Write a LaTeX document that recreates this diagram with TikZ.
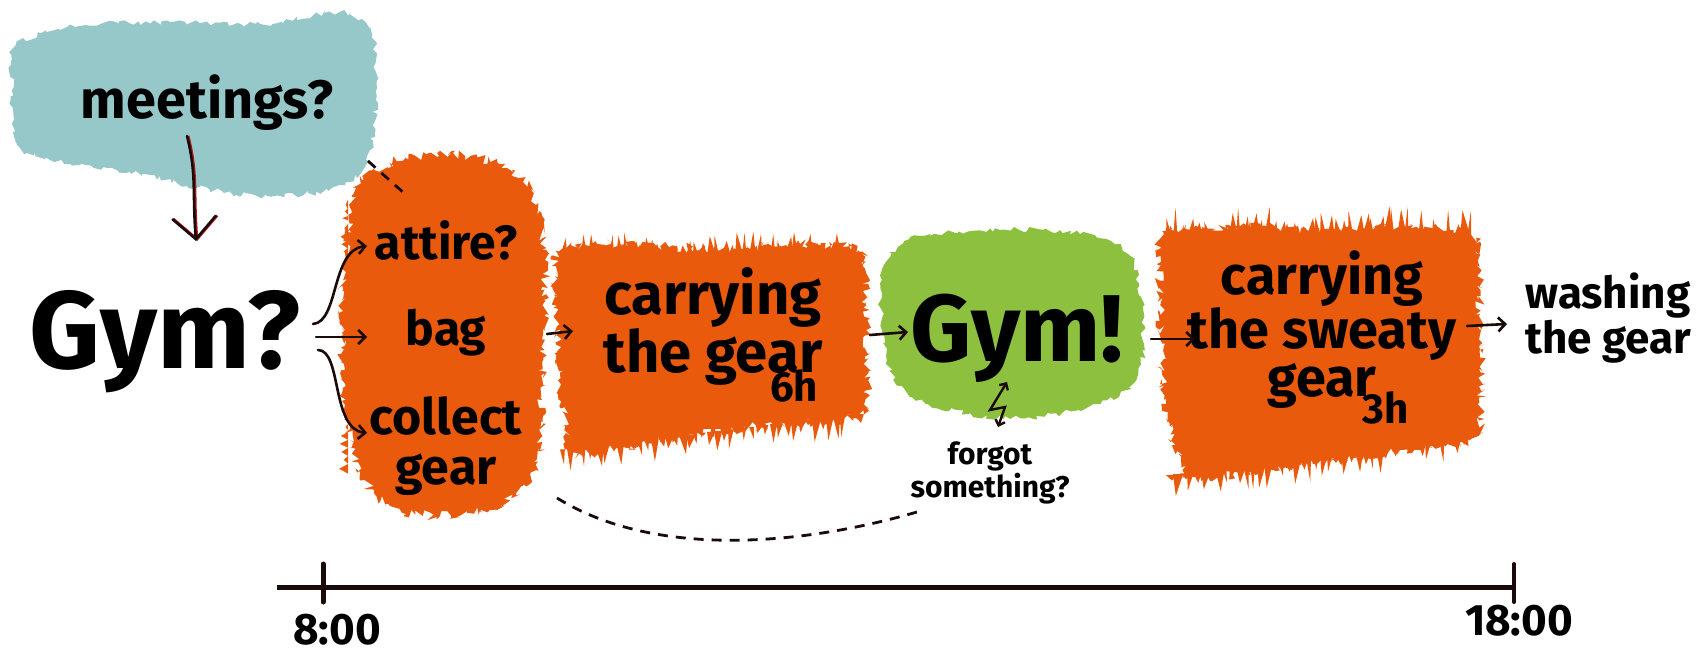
\documentclass[tikz,border=0pt]{standalone}
\usepackage{fontspec}
\setmainfont{Fira Sans}
\usetikzlibrary{arrows.meta,decorations.pathmorphing,calc}
\definecolor{tealc}{HTML}{97C8C9}
\definecolor{orngc}{HTML}{E95A0C}
\definecolor{grnc}{HTML}{8CC03E}
\definecolor{inkc}{HTML}{1A0A0A}
\definecolor{redinkc}{HTML}{B01818}
\newcommand\fsz[2]{\fontsize{#1pt}{#2pt}\selectfont}
\tikzset{
  every node/.style={inner sep=0pt, text=black},
  brush/.style={decorate, decoration={random steps, segment length=4pt, amplitude=3pt}},
  roughbrush/.style={decorate, decoration={random steps, segment length=2.5pt, amplitude=5pt}},
  conn/.style={draw=inkc, line width=2.6pt, line cap=round,
     -{Straight Barb[length=7pt,width=14pt,line width=2.6pt]}},
  bigconn/.style={draw=inkc, line width=2.6pt, line cap=round,
     preaction={draw=redinkc, line width=2.6pt, transform canvas={xshift=1.2pt}},
     -{Straight Barb[length=22pt,width=44pt,line width=2.6pt]}},
  dashline/.style={draw=inkc, line width=2.8pt, dash pattern=on 10pt off 8pt},
  zig/.style={draw=inkc, line width=2.4pt,
     {Straight Barb[length=5pt,width=10pt,line width=2.4pt]}-{Straight Barb[length=5pt,width=10pt,line width=2.4pt]}},
}
\begin{document}
\begin{tikzpicture}[x=1pt,y=-1pt]
\useasboundingbox (0,0) rectangle (1706,655);
\pgfmathsetseed{11}
% brush blobs
\fill[tealc, brush] plot[smooth cycle, tension=0.55] coordinates
  {(16,45) (80,26) (170,22) (260,24) (340,12) (372,35) (376,100) (370,150) (345,185) (280,196) (210,190) (130,172) (50,160) (16,142) (12,90)};
\fill[orngc, roughbrush] plot[smooth cycle, tension=0.55] coordinates
  {(350,230) (362,180) (405,158) (465,156) (512,170) (536,205) (545,260) (542,400) (536,470) (500,505) (440,516) (390,506) (360,472) (345,400) (342,300)};
\fill[orngc, roughbrush] plot[smooth cycle, tension=0.3] coordinates
  {(557,252) (640,244) (720,250) (800,244) (862,252) (866,330) (864,414) (760,426) (660,440) (572,452) (558,350)};
\fill[grnc, brush] plot[smooth cycle, tension=0.55] coordinates
  {(886,262) (920,236) (1000,230) (1080,234) (1130,256) (1143,320) (1136,380) (1090,406) (1020,418) (950,410) (900,386) (882,330)};
\fill[orngc, roughbrush] plot[smooth cycle, tension=0.3] coordinates
  {(1162,232) (1240,226) (1320,230) (1400,226) (1476,238) (1480,330) (1478,436) (1400,450) (1300,464) (1190,476) (1164,400) (1160,300)};
% brush tufts along the edges of the orange strokes
\foreach \x in {560,567,...,854}{
  \pgfmathsetmacro\hh{3+22*rnd}
  \pgfmathsetmacro\ww{4+6*rnd}
  \pgfmathsetmacro\dx{\ww/2+3*rand}
  \fill[orngc] (\x,256) -- ++(\ww,0) -- ++(-\dx,-\hh) -- cycle;
  \pgfmathsetmacro\hb{3+20*rnd}
  \pgfmathsetmacro\wb{4+6*rnd}
  \pgfmathsetmacro\yb{448-(\x-572)*0.12}
  \pgfmathsetmacro\db{\wb/2+3*rand}
  \fill[orngc] (\x,\yb) -- ++(\wb,0) -- ++(-\db,\hb) -- cycle;
}
\foreach \x in {1166,1173,...,1470}{
  \pgfmathsetmacro\hh{4+28*rnd}
  \pgfmathsetmacro\ww{4+7*rnd}
  \pgfmathsetmacro\dx{\ww/2+3*rand}
  \fill[orngc] (\x,238) -- ++(\ww,0) -- ++(-\dx,-\hh) -- cycle;
  \pgfmathsetmacro\hb{3+24*rnd}
  \pgfmathsetmacro\wb{4+7*rnd}
  \pgfmathsetmacro\yb{472-(\x-1190)*0.13}
  \pgfmathsetmacro\db{\wb/2+3*rand}
  \fill[orngc] (\x,\yb) -- ++(\wb,0) -- ++(-\db,\hb) -- cycle;
}
\foreach \y in {200,208,...,470}{
  \pgfmathsetmacro\hh{2+7*rnd}
  \pgfmathsetmacro\ww{4+6*rnd}
  \fill[orngc] (348,\y) -- ++(0,\ww) -- ++(-\hh,-\ww/2) -- cycle;
}
% texts
\node[font=\bfseries\fsz{54}{54}] (meet) at (207,103) {meetings?};
\node[font=\bfseries\fsz{110}{110}] (gymq) at (165,342) {Gym?};
\node[font=\bfseries\fsz{48}{48}] (attire) at (446,240) {attire?};
\node[font=\bfseries\fsz{48}{48}] (bag) at (446,333) {bag};
\node[align=center, font=\bfseries\fsz{50}{50}] (collect) at (446,446) {collect\\gear};
\node[align=center, font=\bfseries\fsz{58}{58}] (carry) at (713,326) {carrying\\the gear};
\node[font=\bfseries\fsz{42}{42}] (hsix) at (794,386) {6h};
\node[font=\bfseries\fsz{95}{95}] (gyme) at (1017,338) {Gym!};
\node[align=center, font=\bfseries\fsz{30}{33}] (forgot) at (990,473) {forgot\\something?};
\node[align=center, font=\bfseries\fsz{54}{48}] (sweaty) at (1322,330) {carrying\\the sweaty\\gear};
\node[font=\bfseries\fsz{42}{42}] (hthree) at (1386,408) {3h};
\node[align=center, font=\bfseries\fsz{44}{42}] (wash) at (1608,318) {washing\\the gear};
\node[font=\bfseries\fsz{44}{44}] (tstart) at (337,630) {8:00};
\node[font=\bfseries\fsz{44}{44}] (tend) at (1519,621) {18:00};
% connectors
\draw[bigconn] ($(meet.center)+(-20,33)$) .. controls +(10,40) and +(-4,-50) .. ($(gymq.center)+(31,-101)$);
\draw[dashline] ($(meet.center)+(161,58)$) -- ($(attire.center)+(-41,-46)$);
\draw[conn] ($(gymq.center)+(148,-18)$) .. controls +(26,-2) and +(-36,4) .. ($(attire.center)+(-79,6)$);
\draw[conn] ($(gymq.center)+(151,-5)$) -- ($(bag.center)+(-79,4)$);
\draw[conn] ($(gymq.center)+(153,8)$) .. controls +(24,0) and +(-36,-4) .. ($(collect.center)+(-79,-13)$);
\draw[conn] ($(bag.center)+(101,1)$) -- ($(carry.center)+(-140,5)$);
\draw[conn] ($(carry.center)+(157,9)$) -- ($(gyme.center)+(-109,-6)$);
\draw[conn] ($(gyme.center)+(134,1)$) -- ($(sweaty.center)+(-127,9)$);
\draw[conn] ($(sweaty.center)+(145,-4)$) -- ($(wash.center)+(-101,6)$);
\draw[dashline] ($(collect.center)+(111,52)$) .. controls +(100,62) and +(-110,32) .. ($(forgot.center)+(-73,39)$);
\draw[zig] ($(gyme.center)+(-10,44)$) -- ++(-17,28) -- ++(15,-3) -- ++(-7,20);
% timeline
\draw[line width=5pt, draw=inkc] (277,587) -- (1516,587);
\draw[line width=5pt, draw=inkc, line cap=round] (323,564) -- (323,602);
\draw[line width=4pt, draw=inkc, line cap=round] (1514,564) -- (1514,602);
\end{tikzpicture}
\end{document}
